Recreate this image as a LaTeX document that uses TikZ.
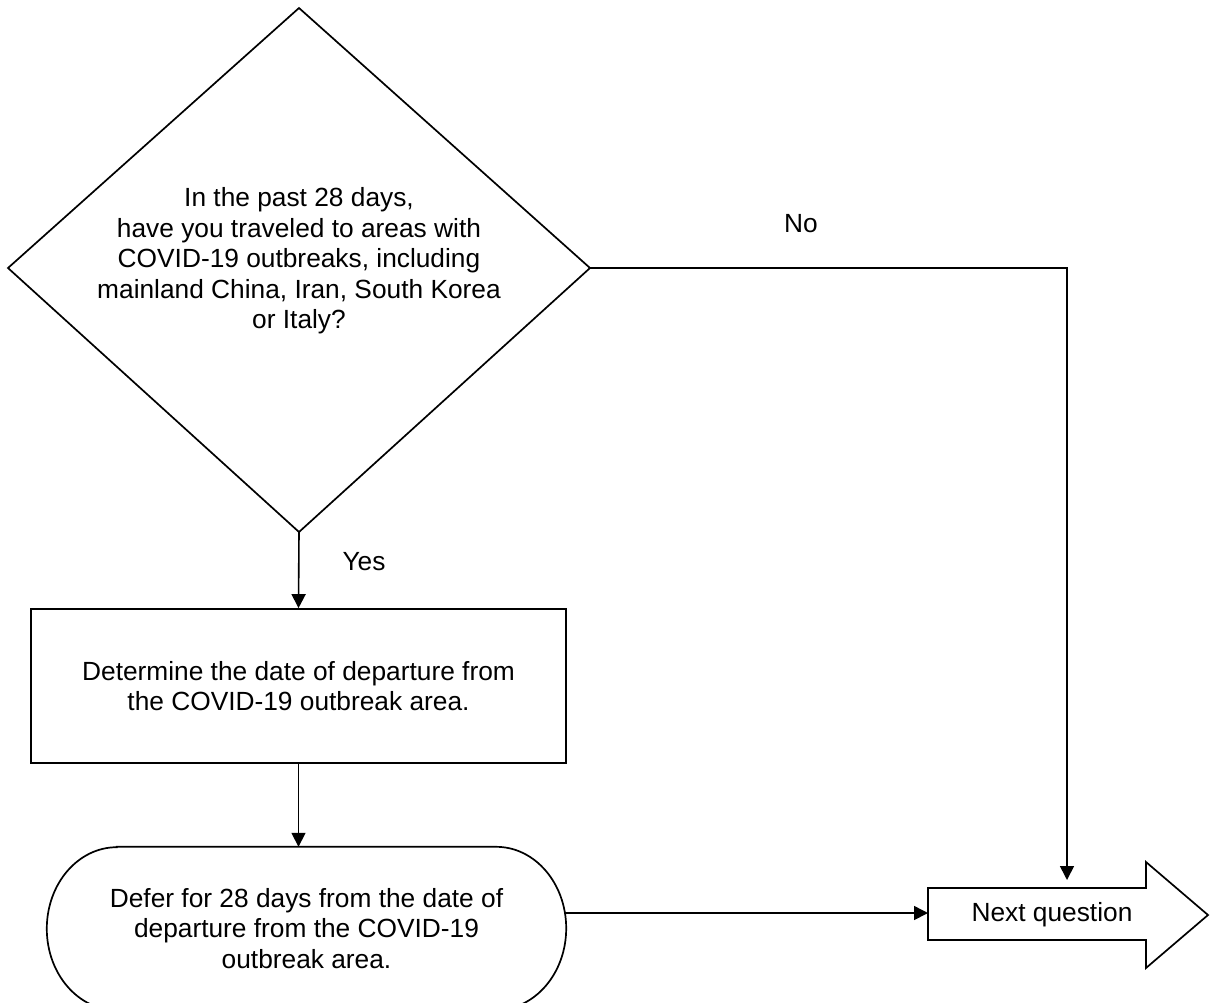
\documentclass[tikz,border=0pt]{standalone}
\usepackage{fontspec}
\setmainfont{Liberation Sans}
\usetikzlibrary{arrows.meta}
\begin{document}
\begin{tikzpicture}[x=1pt,y=-1pt,
  outline/.style={draw=black,line width=1.7pt,line join=miter},
  conn/.style={draw=black,line width=1.6pt,-{Triangle[length=14pt,width=14pt]}},
  txt/.style={font=\fontsize{26.3pt}{30.5pt}\selectfont,align=center,inner sep=0pt},
  procbox/.style={outline,txt,minimum width=535pt,minimum height=154pt}]
\useasboundingbox (0,0) rectangle (1213,1002);
% decision diamond
\coordinate (qN) at (299,8);
\coordinate (qW) at (8,268);
\coordinate (qE) at (590,268);
\coordinate (qS) at (299,532);
\draw[outline] (qN) -- (qE) -- (qS) -- (qW) -- cycle;
\node[txt] (q) at (299,261) {In the past 28 days,\\have you traveled to areas with\\COVID-19 outbreaks, including\\mainland China, Iran, South Korea\\or Italy?};
% process box
\node[procbox] (det) at (298.5,686) {Determine the date of departure from\\the COVID-19 outbreak area.};
% terminal (rounded) box
\node[txt,minimum width=519pt,minimum height=163pt] (defer) at (306.5,928.5) {Defer for 28 days from the date of\\departure from the COVID-19\\outbreak area.};
\draw[outline] ([xshift=70pt]defer.north west) -- ([xshift=-70pt]defer.north east)
  arc[start angle=-90,end angle=90,x radius=70,y radius=81.5]
  -- ([xshift=70pt]defer.south west)
  arc[start angle=90,end angle=270,x radius=70,y radius=81.5] -- cycle;
% next question arrow shape
\draw[outline] (928,888) -- (1146,888) -- (1146,862) -- (1208,915) -- (1146,968) -- (1146,940) -- (928,940) -- cycle;
\node[txt] (next) at (1052,915) {Next question};
\coordinate (nextW) at (928,913);
\coordinate (nextN) at (1067,880);
\coordinate (deferE) at (565,913);
% connectors
\draw[conn] (qS) -- (det.north);
\draw[conn] (det.south) -- (defer.north -| det.south);
\draw[conn] (deferE) -- (nextW);
\draw[conn] (qE) -- (qE -| nextN) -- (nextN);
% labels
\node[txt] (yes) at (364,562) {Yes};
\node[txt] (no) at (801,224) {No};
\end{tikzpicture}
\end{document}
